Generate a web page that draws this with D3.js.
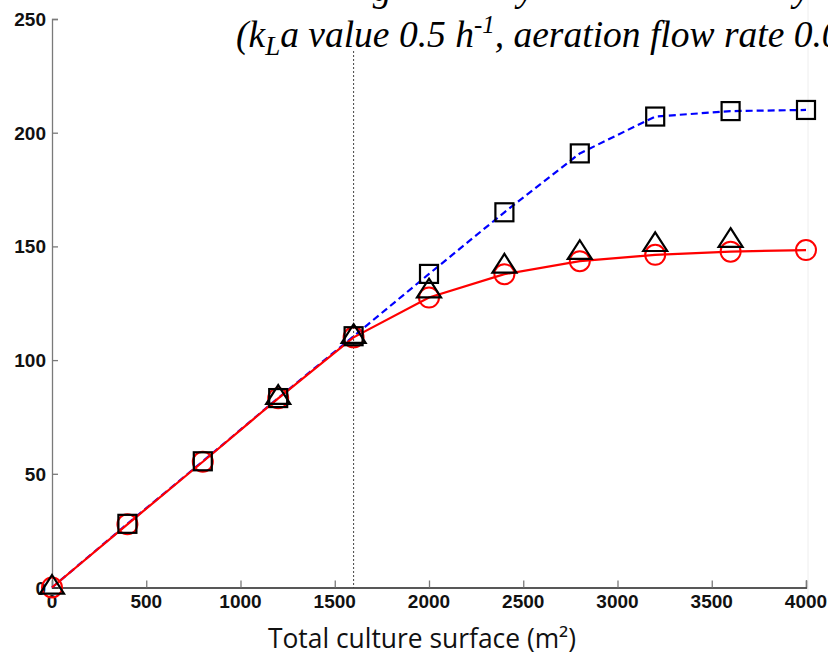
<!DOCTYPE html>
<html><head><meta charset="utf-8">
<script src="https://cdn.jsdelivr.net/npm/d3@7"></script>
<style>body{margin:0;background:#fff}svg{display:block}</style>
</head><body>
<svg id="c" width="828" height="652"></svg>
<script>
// ---- data ----
const surface = [0, 400, 800, 1200, 1600, 2000, 2400, 2800, 3200, 3600, 4000];
const circleVals = [0, 27.8, 55.3, 83.2, 110, 127.5, 137.8, 143.5, 146.3, 147.7, 148.4];
const squareSurface = [400, 800, 1200, 1600, 2000, 2400, 2800, 3200, 3600, 4000];
const squareVals = [28, 55.5, 83.3, 110.5, 137.9, 165, 190.9, 207.1, 209.5, 210];
const triSurface = [0, 1200, 1600, 2000, 2400, 2800, 3200, 3600];
const triVals = [0, 83.5, 110.3, 130.3, 141.2, 147.2, 150.7, 152.5];
const xTicks = [0, 500, 1000, 1500, 2000, 2500, 3000, 3500, 4000];
const yTicks = [0, 50, 100, 150, 200, 250];
const thresholdSurface = 1600;
const xLabel = "Total culture surface (m²)";

// ---- chart ----
const svg = d3.select("#c");
const x = d3.scaleLinear().domain([0, 4000]).range([52, 806]);
const y = d3.scaleLinear().domain([0, 250]).range([587.5, 19]);

// faint right border
svg.append("line").attr("x1", 808).attr("x2", 808).attr("y1", 0).attr("y2", 600)
  .attr("stroke", "#eeeeee").attr("stroke-width", 1);

// threshold dotted line
svg.append("line")
  .attr("x1", x(thresholdSurface)).attr("x2", x(thresholdSurface))
  .attr("y1", y(250)).attr("y2", y(0))
  .attr("stroke", "#444").attr("stroke-width", 1).attr("stroke-dasharray", "2,2");

// axes
const yAxis = svg.append("g").attr("transform", `translate(${x(0)},0)`)
  .call(d3.axisRight(y).tickValues(yTicks).tickSize(6).tickFormat(""));
yAxis.select(".domain").attr("stroke", "#7a7a7a").attr("stroke-width", 1.3);
yAxis.selectAll(".tick line").attr("stroke", "#7a7a7a").attr("stroke-width", 1.3);

const xAxis = svg.append("g").attr("transform", `translate(0,${y(0)})`)
  .call(d3.axisTop(x).tickValues(xTicks).tickSize(7).tickFormat(""));
xAxis.select(".domain").attr("stroke", "#222").attr("stroke-width", 1.3);
xAxis.selectAll(".tick line").attr("stroke", "#7a7a7a").attr("stroke-width", 1.3);

// tick labels
const tickFont = "'Liberation Sans', Arial, sans-serif";
svg.append("g").selectAll("text").data(yTicks).join("text")
  .attr("x", 46).attr("y", d => y(d) + 7)
  .attr("text-anchor", "end").attr("font-family", tickFont)
  .attr("font-weight", "bold").attr("font-size", 19).attr("fill", "#111")
  .text(d => d);
svg.append("g").selectAll("text").data(xTicks).join("text")
  .attr("x", d => x(d)).attr("y", 608)
  .attr("text-anchor", "middle").attr("font-family", tickFont)
  .attr("font-weight", "bold").attr("font-size", 19).attr("fill", "#111")
  .text(d => d);

// lines
const blueData = [{s: 0, v: 0}].concat(squareSurface.map((s, i) => ({s, v: squareVals[i]})));
const redData = surface.map((s, i) => ({s, v: circleVals[i]}));
const line = d3.line().x(d => x(d.s)).y(d => y(d.v));
svg.append("path").datum(blueData).attr("d", line)
  .attr("fill", "none").attr("stroke", "#0000ff").attr("stroke-width", 2.2)
  .attr("stroke-dasharray", "7,4");
svg.append("path").datum(redData).attr("d", line)
  .attr("fill", "none").attr("stroke", "#ff0000").attr("stroke-width", 2.2);

// markers
svg.append("g").selectAll("circle").data(redData).join("circle")
  .attr("cx", d => x(d.s)).attr("cy", d => y(d.v)).attr("r", 10)
  .attr("fill", "none").attr("stroke", "#ff0000").attr("stroke-width", 2);
svg.append("g").selectAll("rect").data(squareSurface.map((s, i) => ({s, v: squareVals[i]}))).join("rect")
  .attr("x", d => x(d.s) - 9).attr("y", d => y(d.v) - 9).attr("width", 18).attr("height", 18)
  .attr("fill", "none").attr("stroke", "#000").attr("stroke-width", 2.2);
svg.append("g").selectAll("path").data(triSurface.map((s, i) => ({s, v: triVals[i]}))).join("path")
  .attr("d", d => {
    const cx = x(d.s), cy = y(d.v);
    return `M${cx},${cy - 12.5} L${cx + 12},${cy + 6.2} L${cx - 12},${cy + 6.2} Z`;
  })
  .attr("fill", "none").attr("stroke", "#000").attr("stroke-width", 2.2).attr("stroke-linejoin", "miter");

// title (partially cut off at the top and right of the picture)
svg.append("rect").attr("x", 215).attr("y", 0).attr("width", 592).attr("height", 50).attr("fill", "#fff");
const tf = "'Liberation Serif', 'Times New Roman', serif";
const frag = svg.append("g").attr("font-family", tf).attr("font-style", "italic").attr("font-size", 37.5);
[["g", 382], ["y", 526], ["y", 802]].forEach(([t, px]) =>
  frag.append("text").attr("x", px).attr("y", 1).attr("text-anchor", "middle").text(t));
const title = svg.append("text").attr("x", 236).attr("y", 47)
  .attr("font-family", tf).attr("font-style", "italic").attr("font-size", 37.5).attr("fill", "#000");
title.append("tspan").text("(k");
title.append("tspan").attr("dy", 8).attr("font-size", 27).text("L");
title.append("tspan").attr("dy", -8).text("a value 0.5 h");
title.append("tspan").attr("dy", -14).attr("font-size", 25).text("-1");
title.append("tspan").attr("dy", 14).text(", aeration flow rate 0.0");

// x label
svg.append("text").attr("x", 422).attr("y", 648).attr("text-anchor", "middle")
  .attr("font-family", "'Open Sans', 'Noto Sans', sans-serif").attr("font-size", 26.4).attr("fill", "#111")
  .text(xLabel);
</script>
</body></html>
